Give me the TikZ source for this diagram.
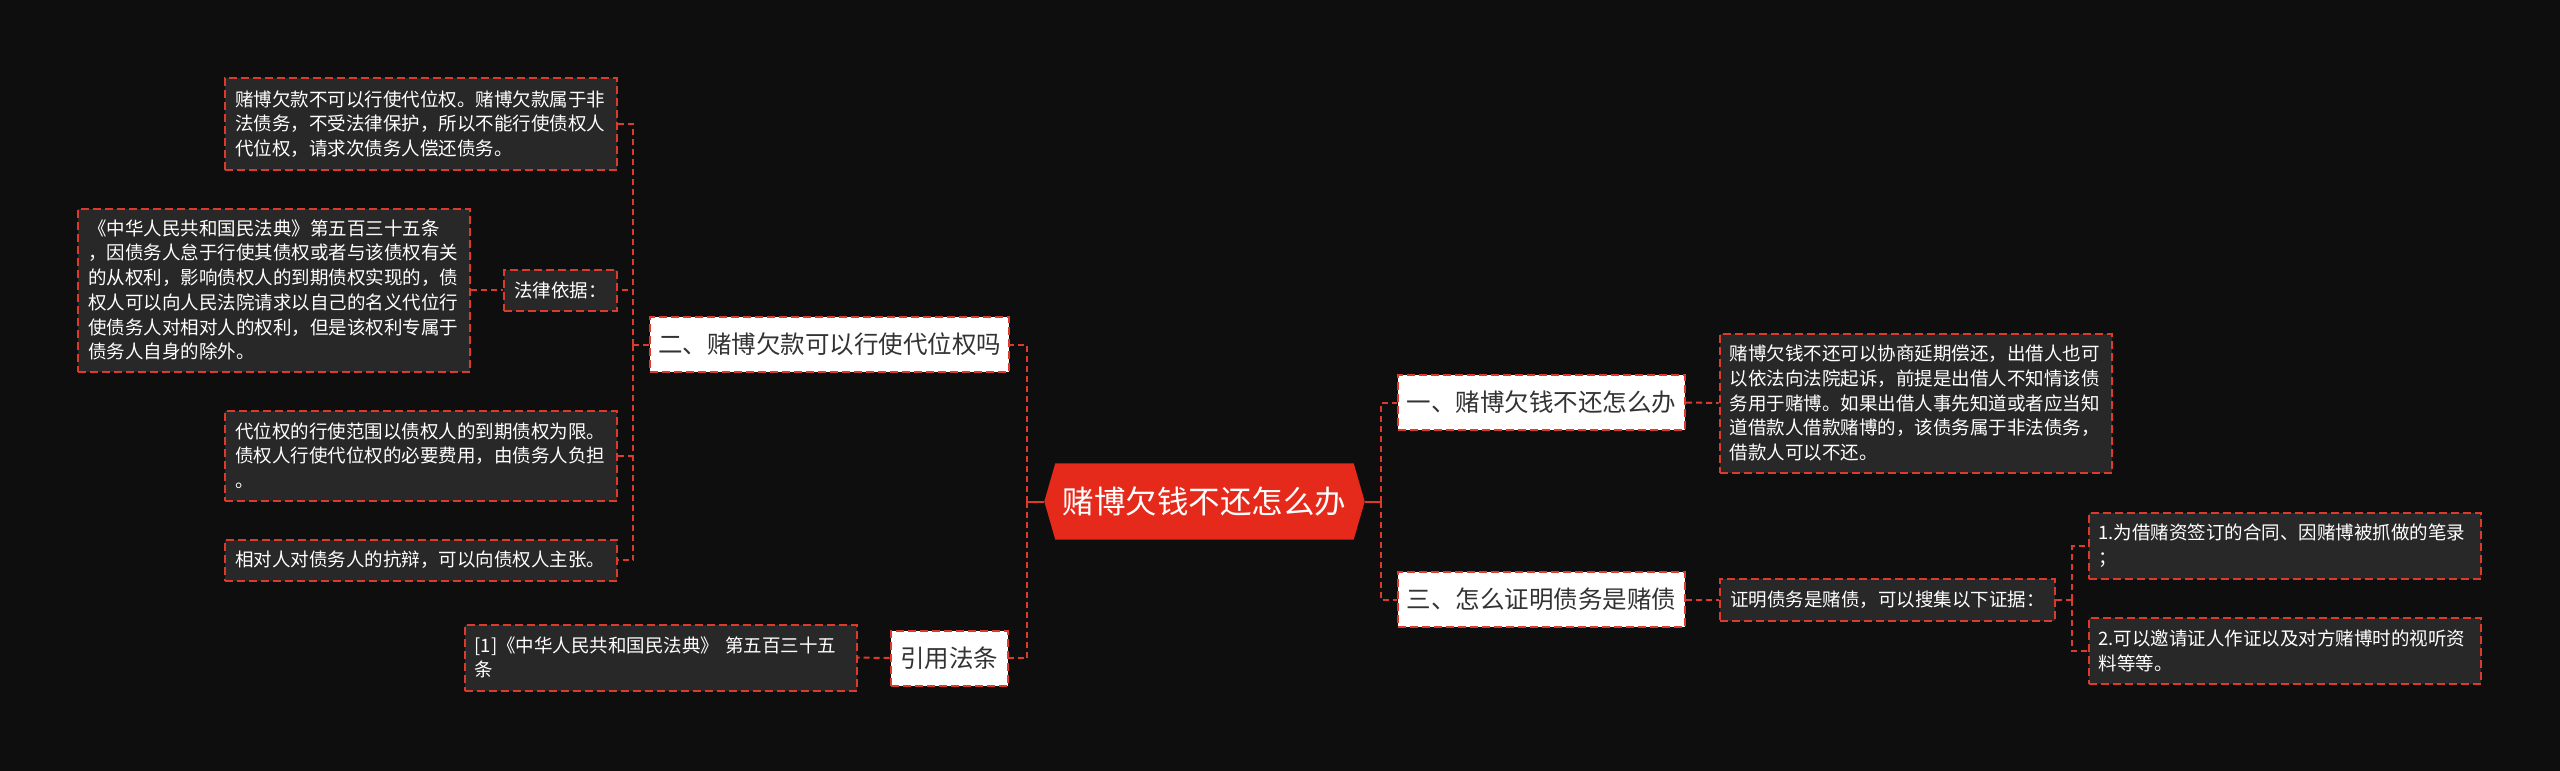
\documentclass[tikz,border=0pt]{standalone}
\usepackage{fontspec}
\setmainfont{Noto Sans CJK SC}
\usetikzlibrary{calc}
\pgfdeclarelayer{bglayer}
\pgfsetlayers{bglayer,main}
\definecolor{bgc}{HTML}{0E0E0E}
\definecolor{boxc}{HTML}{282828}
\definecolor{linered}{HTML}{DC3A2C}
\definecolor{rootred}{HTML}{E5291B}
\definecolor{topictext}{HTML}{333333}
\begin{document}
\begin{tikzpicture}[x=1pt,y=-1pt,
  conn/.style={draw=linered, line width=2pt, dash pattern=on 6pt off 4pt},
  boxline/.style={draw=linered, line width=2pt, dash pattern=on 8pt off 4pt},
  detail/.style={boxline, fill=boxc, text=white, font=\fontsize{18.5}{24.7}\selectfont, align=left, inner xsep=10pt, inner ysep=3pt},
  widebox/.style={detail, text width=372pt, minimum height=#1},
  topic/.style={boxline, fill=white, text=topictext, font=\fontsize{24.5}{30}\selectfont, inner sep=0pt, minimum height=55pt},
]
\useasboundingbox (0,0) rectangle (2560,771);
\begin{pgfonlayer}{bglayer}
\fill[bgc] (0,0) rectangle (2560,771);
\end{pgfonlayer}

% root
\node[font=\fontsize{31.5}{36}\selectfont, text=white, minimum width=320pt, minimum height=76pt, inner sep=0pt] (root) at (1204.5,501.5) {赌博欠钱不还怎么办};
\begin{pgfonlayer}{bglayer}
\fill[rootred] ($(root.north west)+(11,0)$) -- ($(root.north east)+(-11,0)$) -- (root.east) -- ($(root.south east)+(-11,0)$) -- ($(root.south west)+(11,0)$) -- (root.west) -- cycle;
\end{pgfonlayer}

% left side
\node[topic, minimum width=359pt] (two) at (829.5,344.5) {二、赌博欠款可以行使代位权吗};
\node[topic, minimum width=117pt] (cite) at (949,658) {引用法条};

\node[widebox=92pt] (b1) at (421,124) {赌博欠款不可以行使代位权。赌博欠款属于非\\法债务，不受法律保护，所以不能行使债权人\\代位权，请求次债务人偿还债务。};
\node[detail, minimum height=41pt] (fl) at (560.5,290) {法律依据：};
\node[widebox=163pt] (legal) at (274,290) {《中华人民共和国民法典》第五百三十五条\\，因债务人怠于行使其债权或者与该债权有关\\的从权利，影响债权人的到期债权实现的，债\\权人可以向人民法院请求以自己的名义代位行\\使债务人对相对人的权利，但是该权利专属于\\债务人自身的除外。};
\node[widebox=90pt] (d2) at (421,455.5) {代位权的行使范围以债权人的到期债权为限。\\债权人行使代位权的必要费用，由债务人负担\\。};
\node[widebox=41pt] (d3) at (421,560) {相对人对债务人的抗辩，可以向债权人主张。};
\node[widebox=66pt] (refd) at (660.5,657.5) {[1]《中华人民共和国民法典》 第五百三十五\\条};

% right side
\node[topic, minimum width=287pt] (one) at (1541.5,402.5) {一、赌博欠钱不还怎么办};
\node[topic, minimum width=287pt] (three) at (1541.5,599.5) {三、怎么证明债务是赌债};
\node[widebox=139pt] (oned) at (1915.5,403) {赌博欠钱不还可以协商延期偿还，出借人也可\\以依法向法院起诉，前提是出借人不知情该债\\务用于赌博。如果出借人事先知道或者应当知\\道借款人借款赌博的，该债务属于非法债务，\\借款人可以不还。};
\node[detail, minimum height=42pt] (prove) at (1887.5,599.5) {证明债务是赌债，可以搜集以下证据：};
\node[widebox=66pt] (p1) at (2284.5,546) {1.为借赌资签订的合同、因赌博被抓做的笔录\\；};
\node[widebox=66pt] (p2) at (2284.5,651) {2.可以邀请证人作证以及对方赌博时的视听资\\料等等。};

% junctions
\coordinate (jl) at (1027,501.5);
\coordinate (jl2) at (633,344.5);
\coordinate (jr) at (1381,501.5);
\coordinate (jr2) at (2072,599.5);

% connectors
\draw[linered, line width=2pt] (root.west) -- (jl);
\draw[conn] (jl) |- (two.east);
\draw[conn] (jl) |- (cite.east);
\draw[conn] (two.west) -- (jl2);
\draw[conn] (jl2) |- (b1.east);
\draw[conn] (jl2) |- (fl.east);
\draw[conn] (jl2) |- (d2.east);
\draw[conn] (jl2) |- (d3.east);
\draw[conn] (legal.east) -- (fl.west);
\draw[conn] (cite.west) -- (refd.east);

\draw[linered, line width=2pt] (root.east) -- (jr);
\draw[conn] (jr) |- (one.west);
\draw[conn] (jr) |- (three.west);
\draw[conn] (one.east) -- (oned.west);
\draw[conn] (three.east) -- (prove.west);
\draw[conn] (prove.east) -- (jr2);
\draw[conn] (jr2) |- (p1.west);
\draw[conn] (jr2) |- (p2.west);
\end{tikzpicture}
\end{document}
